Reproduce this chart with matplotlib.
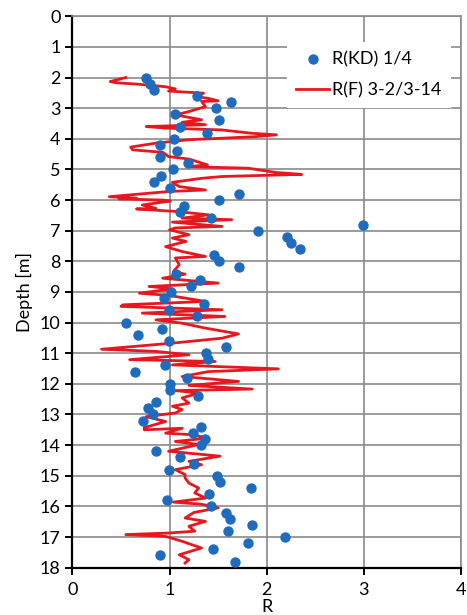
import numpy as np
import matplotlib
matplotlib.use("Agg")
import matplotlib.pyplot as plt

# R(KD) 1/4 : dilatometer points every 0.2 m
kd_depth = np.round(np.arange(2.0, 17.81, 0.2), 1)
kd_r = [0.76, 0.80, 0.84, 1.28, 1.63, 1.48, 1.06, 1.51, 1.11, 1.39,
        1.05, 0.90, 1.08, 0.90, 1.19, 1.04, 0.91, 0.84, 1.00, 1.72,
        1.51, 1.15, 1.11, 1.43, 2.99, 1.91, 2.21, 2.25, 2.34, 1.46,
        1.51, 1.72, 1.07, 1.31, 1.22, 1.02, 0.94, 1.35, 0.99, 1.28,
        0.55, 0.92, 0.68, 0.99, 1.58, 1.38, 1.40, 0.95, 0.64, 1.18,
        1.00, 1.00, 1.29, 0.86, 0.78, 0.83, 0.73, 1.32, 1.24, 1.37,
        1.32, 0.86, 1.11, 1.25, 0.99, 1.49, 1.52, 1.84, 1.41, 0.97,
        1.43, 1.58, 1.62, 1.85, 1.60, 2.19, 1.81, 1.45, 0.90, 1.67]

# R(F) 3-2/3-14 : continuous trace (depth, R)
f_depth = [2.00, 2.13, 2.17, 2.22, 2.30, 2.37, 2.44, 2.51, 2.62, 2.68,
           2.76, 2.78, 2.95, 3.11, 3.22, 3.30, 3.38, 3.46, 3.54, 3.60,
           3.65, 3.71, 3.82, 3.87, 3.93, 4.03, 4.14, 4.27, 4.36, 4.44,
           4.58, 4.66, 4.85, 4.91, 4.96, 5.10, 5.16, 5.23, 5.29, 5.42,
           5.56, 5.67, 5.72, 5.89, 5.94, 5.96, 6.00, 6.03, 6.16, 6.27,
           6.29, 6.37, 6.48, 6.59, 6.64, 6.72, 6.86, 6.91, 6.97, 7.13,
           7.24, 7.35, 7.52, 7.68, 7.84, 7.89, 8.11, 8.33, 8.42, 8.55,
           8.71, 8.82, 8.90, 9.04, 9.11, 9.31, 9.42, 9.47, 9.58, 9.69,
           9.80, 9.91, 10.02, 10.18, 10.37, 10.51, 10.67, 10.87, 10.94, 11.05,
           11.21, 11.27, 11.38, 11.51, 11.60, 11.76, 11.92, 12.05, 12.17, 12.22,
           12.30, 12.46, 12.63, 12.73, 12.84, 12.95, 13.07, 13.23, 13.43, 13.50,
           13.45, 13.61, 13.66, 13.77, 13.88, 13.98, 14.20, 14.36, 14.53, 14.64,
           14.80, 14.96, 15.07, 15.24, 15.40, 15.56, 15.73, 15.86, 15.93, 16.05,
           16.20, 16.38, 16.49, 16.65, 16.81, 16.87, 16.92, 16.98, 17.14, 17.36,
           17.58, 17.74, 17.85]
f_r = [0.55, 0.39, 0.45, 0.69, 0.96, 1.06, 0.99, 1.35, 1.27, 1.40,
       1.50, 1.33, 1.37, 1.20, 1.06, 1.20, 1.33, 1.13, 1.37, 0.76,
       0.96, 1.54, 1.85, 2.10, 1.88, 1.20, 0.86, 0.60, 0.62, 0.93,
       0.99, 1.20, 1.39, 1.20, 1.81, 2.10, 2.36, 1.54, 1.33, 1.03,
       1.10, 1.37, 0.99, 0.38, 0.66, 0.48, 0.93, 1.01, 0.72, 0.86,
       0.66, 1.06, 1.40, 1.13, 1.64, 1.03, 1.54, 1.06, 1.00, 1.20,
       1.03, 1.17, 0.96, 1.13, 1.37, 1.06, 1.10, 1.04, 1.16, 0.93,
       1.50, 0.79, 1.03, 0.69, 0.99, 1.37, 0.52, 0.50, 1.54, 0.72,
       1.57, 0.86, 1.13, 1.37, 1.71, 1.54, 1.03, 0.30, 0.86, 1.20,
       0.59, 1.47, 1.03, 2.12, 1.40, 1.13, 1.71, 1.20, 1.85, 1.06,
       1.30, 1.13, 1.20, 1.03, 1.13, 1.06, 0.76, 0.96, 0.74, 0.74,
       1.13, 0.96, 1.23, 1.40, 1.06, 1.30, 0.99, 1.52, 1.20, 1.33,
       1.06, 1.16, 1.16, 1.20, 1.30, 1.26, 1.37, 1.04, 1.33, 1.50,
       1.25, 1.16, 1.37, 1.20, 1.26, 0.99, 0.55, 0.96, 1.13, 1.33,
       1.10, 1.20, 1.16]

plt.rcParams["font.family"] = ["Lato", "DejaVu Sans"]

fig = plt.figure(figsize=(4.67, 6.15), dpi=100)
ax = fig.add_axes([0.155, 0.077, 0.832, 0.8965])

ax.plot(f_r, f_depth, color="#e8161e", lw=2.0, label="R(F) 3-2/3-14", zorder=3)
ax.scatter(kd_r, kd_depth, s=42, color="#1f6bbd", label="R(KD) 1/4", zorder=4)

ax.set_xlim(0, 4)
ax.set_ylim(18, 0)
ax.set_xticks(range(0, 5))
ax.set_yticks(range(0, 19))
ax.grid(True, color="#8a8a8a", lw=1.2)
ax.set_axisbelow(True)
for s in ["top", "right"]:
    ax.spines[s].set_color("#8a8a8a")
    ax.spines[s].set_linewidth(1.2)
for s in ["left", "bottom"]:
    ax.spines[s].set_color("black")
    ax.spines[s].set_linewidth(1.6)
ax.tick_params(direction="out", length=5, width=1.4, labelsize=13)
ax.tick_params(axis="x", pad=5)

ax.set_xlabel("R", fontsize=13, labelpad=1)
ax.set_ylabel("Depth [m]", fontsize=13, labelpad=5)

h, l = ax.get_legend_handles_labels()
leg = ax.legend(h[::-1], l[::-1], loc="upper left", bbox_to_anchor=(0.53, 0.97),
                fontsize=13, frameon=True, fancybox=False, framealpha=1,
                edgecolor="none", facecolor="white", labelspacing=0.85,
                handlelength=1.8, handletextpad=0.2, borderpad=0.5)
leg.set_zorder(5)

fig.savefig("out.png", dpi=100)
